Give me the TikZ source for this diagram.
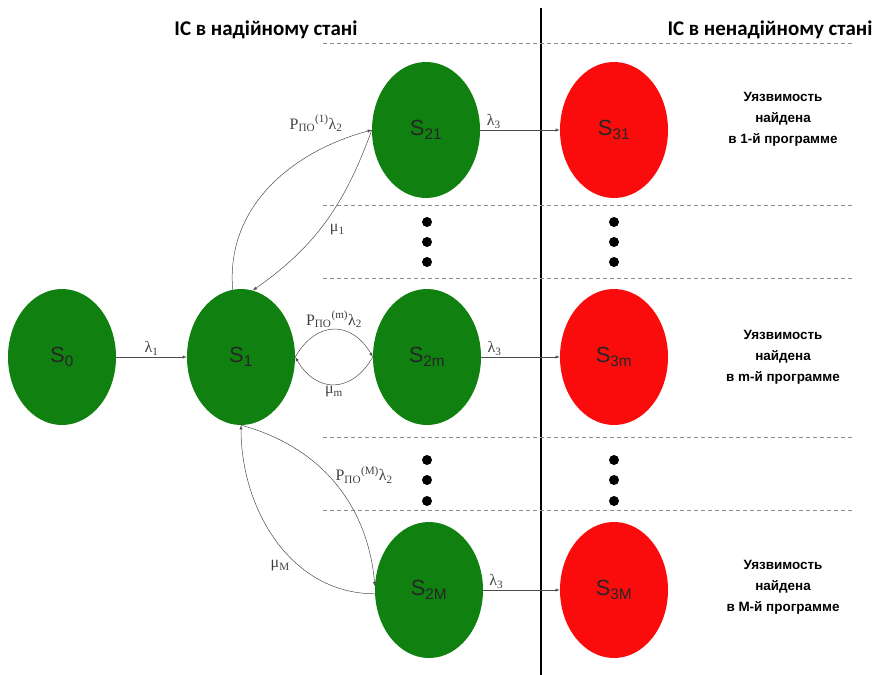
\documentclass[tikz,border=0pt]{standalone}
\usepackage{fontspec}
\setmainfont{Liberation Serif}
\newfontfamily\arialfont{Liberation Sans}
\newfontfamily\calibrifont{Carlito}
\usepackage{tikz}
\usetikzlibrary{arrows,shapes}
\definecolor{safegreen}{RGB}{16,128,16}
\definecolor{unsafered}{RGB}{250,12,12}

\begin{document}
\begin{tikzpicture}[>=latex,
  state/.style={ellipse,minimum width=108bp,minimum height=136bp,inner sep=0pt,font=\arialfont\fontsize{22}{24}\selectfont,text=black!85},
  link/.style={->,line width=0.5pt,draw=black!70},
  rate/.style={font=\fontsize{16}{17}\selectfont,text=black!75,inner sep=1.5pt},
  sep/.style={dashed,dash pattern=on 4bp off 3bp,line width=1pt,draw=black!45},
  title/.style={font=\calibrifont\bfseries\fontsize{21}{23}\selectfont},
  note/.style={align=center,font=\arialfont\bfseries\fontsize{13.5}{21}\selectfont}]
\useasboundingbox (0bp,0bp) rectangle (879bp,-675bp);
% headings
\node (goodtitle) at (266bp,-30bp)[title] {ІС в надійному стані};
\node (badtitle) at (770bp,-30bp)[title] {ІС в ненадійному стані};
% border between the two areas and the row separators
\draw [line width=1.6pt] (541bp,-8bp) -- (541bp,-675bp);
\foreach \y in {43,205,278,437,510}
  \draw [sep] (323bp,-\y bp) -- (855bp,-\y bp);
\foreach \x in {427,614}
  \foreach \y in {222,242,262,460,480,501}
    \fill (\x bp,-\y bp) circle (5bp);
% states
\node (S0) at (62bp,-357bp)[state,fill=safegreen] {S\textsubscript{0}};
\node (S1) at (241bp,-357bp)[state,fill=safegreen] {S\textsubscript{1}};
\node (S21) at (426bp,-130bp)[state,fill=safegreen] {S\textsubscript{21}};
\node (S2m) at (427bp,-357bp)[state,fill=safegreen] {S\textsubscript{2m}};
\node (S2M) at (429bp,-590bp)[state,fill=safegreen] {S\textsubscript{2M}};
\node (S31) at (614bp,-130bp)[state,fill=unsafered] {S\textsubscript{31}};
\node (S3m) at (614bp,-357bp)[state,fill=unsafered] {S\textsubscript{3m}};
\node (S3M) at (614bp,-590bp)[state,fill=unsafered] {S\textsubscript{3M}};
\node (note1) at (783bp,-119bp)[note] {Уязвимость\\найдена\\в 1-й программе};
\node (notem) at (783bp,-357bp)[note] {Уязвимость\\найдена\\в m-й программе};
\node (noteM) at (783bp,-587bp)[note] {Уязвимость\\найдена\\в M-й программе};
% transitions
\draw [link] (S0) -- node[rate,above] {λ\textsubscript{1}} (S1);
\draw [link] (S1.97) to[out=95,in=195] node[rate,pos=0.9,above left=4bp] {P\textsubscript{ПО}\textsuperscript{(1)}λ\textsubscript{2}} (S21.west);
\draw [link] (S21.west) to[out=250,in=35] node[rate,pos=0.5,below right=2bp] {μ\textsubscript{1}} (S1.80);
\draw [link] (S1.east) to[out=60,in=120,looseness=1.4] node[rate,above] {P\textsubscript{ПО}\textsuperscript{(m)}λ\textsubscript{2}} (S2m.west);
\draw [link] (S2m.west) to[out=240,in=300,looseness=1.4] node[rate,below] {μ\textsubscript{m}} (S1.east);
\draw [link] (S1.south) to[out=-15,in=95] node[rate,pos=0.45,right=6bp] {P\textsubscript{ПО}\textsuperscript{(M)}λ\textsubscript{2}} (S2M.176);
\draw [link] (S2M.184) to[out=180,in=-90] node[rate,pos=0.4,below left=0bp] {μ\textsubscript{M}} (S1.south);
\draw [link] (S21.east) -- node[rate,pos=0.17,above] {λ\textsubscript{3}} (S31.west);
\draw [link] (S2m.east) -- node[rate,pos=0.17,above] {λ\textsubscript{3}} (S3m.west);
\draw [link] (S2M.east) -- node[rate,pos=0.17,above] {λ\textsubscript{3}} (S3M.west);
\end{tikzpicture}
\end{document}
